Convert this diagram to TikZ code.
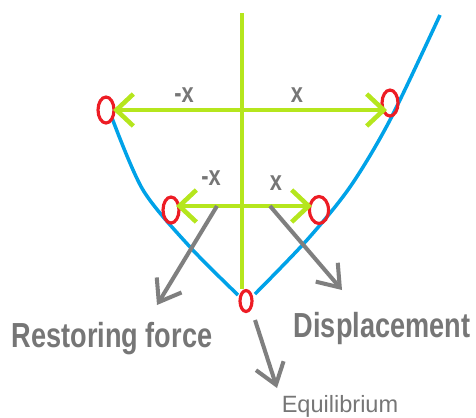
\documentclass[tikz,border=0pt]{standalone}
\usepackage{fontspec}
\usepackage{tikz}
\usetikzlibrary{arrows.meta,positioning,shapes.geometric}
\newfontfamily\lblfont[FakeStretch=0.78]{Liberation Sans}
\newfontfamily\eqfont{Liberation Sans}
\definecolor{limegrn}{RGB}{181,230,29}
\definecolor{sky}{RGB}{0,162,232}
\definecolor{ringred}{RGB}{237,28,36}
\definecolor{arrgray}{RGB}{127,127,127}
\definecolor{txtgray}{RGB}{118,118,118}

\begin{document}
\begin{tikzpicture}[
    x=0.02cm, y=-0.02cm,
    ring/.style={draw=ringred, ellipse, line width=1.8pt, inner sep=0pt,
      minimum width=3.2mm, minimum height=5.2mm},
    bowl/.style={draw=sky, line width=2pt},
    grn/.style={draw=limegrn, line width=2.6pt},
    garr/.style={grn, {Straight Barb[length=3.4mm,width=6.4mm]}-{Straight Barb[length=3.4mm,width=6.4mm]}},
    gyarr/.style={draw=arrgray, line width=2.3pt, -{Straight Barb[length=4mm,width=5.8mm]}},
    xlbl/.style={text=txtgray, font=\lblfont\bfseries\fontsize{15.9}{18}\selectfont,
      inner sep=0pt, anchor=base},
    big/.style={text=txtgray, font=\lblfont\bfseries\fontsize{19.8}{23}\selectfont,
      inner sep=0pt, anchor=base},
    eqlbl/.style={text=txtgray, font=\eqfont\fontsize{13.4}{16}\selectfont,
      inner sep=0pt, anchor=base},
  ]
  \useasboundingbox (0,0) rectangle (476,417);

  % --- the bowl ---
  \draw[bowl] plot[smooth] coordinates {(112,118) (143,190) (190,247) (238,295)};
  \draw[bowl] plot[smooth] coordinates {(255,294) (307,240) (350,187) (390,120)
    (440,15)};

  % --- ball positions ---
  \node[ring] (lt) at (106,110) {};
  \node[ring] (rt) at (390,103) {};
  \node[ring] (lm) at (171,210) {};
  \node[ring, minimum width=3.8mm, minimum height=5.4mm] (rm) at (319,210) {};
  \node[ring, minimum width=2.4mm, minimum height=4.2mm] (eq) at (246,301) {};

  % --- axis and displacements ---
  \coordinate (top) at (242,13);
  \draw[grn] (top) -- (top |- eq.north);
  \coordinate (tl) at (113,110);
  \coordinate (tr) at (387,110);
  \draw[garr] (tl) -- (tr);
  \coordinate (ml) at (176,206);
  \coordinate (mr) at (312,206);
  \draw[garr] (ml) -- (mr);

  \node[xlbl] (nx1) at (184,102) {-x};
  \node[xlbl] (px1) at (297,102) {x};
  \node[xlbl] (nx2) at (211,185) {-x};
  \node[xlbl] (px2) at (276,190) {x};

  % --- pointers ---
  \coordinate (fs) at (217,206);
  \coordinate (fe) at (157,305);
  \draw[gyarr] (fs) -- (fe);
  \coordinate (ds) at (270,206);
  \coordinate (de) at (342,290);
  \draw[gyarr] (ds) -- (de);
  \coordinate (es) at (255,320);
  \coordinate (ee) at (277,388);
  \draw[gyarr] (es) -- (ee);

  \node[big] (rf) at (112,347) {Restoring force};
  \node[big] (dp) at (382,337) {Displacement};
  \node[eqlbl] (eqt) at (340,412) {Equilibrium};
\end{tikzpicture}
\end{document}
